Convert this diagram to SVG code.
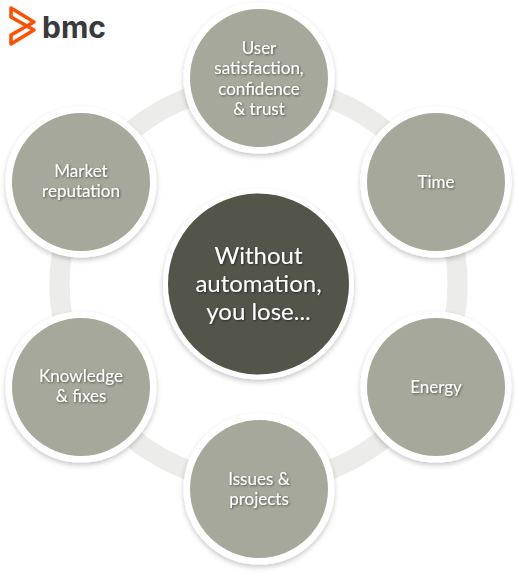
<svg xmlns="http://www.w3.org/2000/svg" width="518" height="574" viewBox="0 0 518 574">
<defs>
<filter id="cs" x="-20%" y="-20%" width="140%" height="140%"><feDropShadow dx="0" dy="2.5" stdDeviation="2.5" flood-color="#000" flood-opacity="0.22"/></filter>
<filter id="ts" x="-10%" y="-20%" width="120%" height="140%"><feDropShadow dx="1" dy="1" stdDeviation="0.8" flood-color="#000" flood-opacity="0.5"/></filter>
</defs>
<style>
.ring{fill:#fff;stroke:#fff;stroke-width:3;filter:url(#cs)}
.disc{fill:#a6a89b}
.hub{fill:#53544a}
.t{font-family:Lato,"Noto Sans",sans-serif;font-size:17px;fill:#fff;text-anchor:middle;filter:url(#ts)}
.h{font-size:24px}
</style>
<rect width="518" height="574" fill="#fff"/>
<g id="connectors"><circle cx="258.5" cy="284" r="199" fill="none" stroke="#ecECEA" stroke-width="20"/></g>
<g id="logo"><path d="M11 8L34 22L11 35L11 44L34 30L11 17Z" fill="none" stroke="#fe5000" stroke-width="3.5" stroke-linejoin="round"/><text x="42" y="38" font-family="Inter,sans-serif" font-weight="700" font-size="30" fill="#3a3a3c">bmc</text></g>
<g id="node-user"><circle class="ring" cx="259" cy="78" r="74"/><circle class="disc" cx="259" cy="78" r="69"/><text class="t" x="259" y="54">User</text><text class="t" x="259" y="74">satisfaction,</text><text class="t" x="259" y="95">confidence</text><text class="t" x="259" y="115">&amp; trust</text></g>
<g id="node-time"><circle class="ring" cx="436" cy="182" r="74"/><circle class="disc" cx="436" cy="182" r="69"/><text class="t" x="436" y="188">Time</text></g>
<g id="node-energy"><circle class="ring" cx="436" cy="387" r="74"/><circle class="disc" cx="436" cy="387" r="69"/><text class="t" x="436" y="393">Energy</text></g>
<g id="node-issues"><circle class="ring" cx="259" cy="489" r="74"/><circle class="disc" cx="259" cy="489" r="69"/><text class="t" x="259" y="485">Issues &amp;</text><text class="t" x="259" y="505">projects</text></g>
<g id="node-knowledge"><circle class="ring" cx="81" cy="387" r="74"/><circle class="disc" cx="81" cy="387" r="69"/><text class="t" x="81" y="382">Knowledge</text><text class="t" x="81" y="402">&amp; fixes</text></g>
<g id="node-market"><circle class="ring" cx="81" cy="182" r="74"/><circle class="disc" cx="81" cy="182" r="69"/><text class="t" x="81" y="177">Market</text><text class="t" x="81" y="197">reputation</text></g>
<g id="node-center"><circle class="ring" cx="258.5" cy="284" r="94"/><circle class="hub" cx="258.5" cy="284" r="90.5"/><text class="t h" x="258.5" y="264">Without</text><text class="t h" x="258.5" y="292">automation,</text><text class="t h" x="258.5" y="320">you lose...</text></g>
</svg>
